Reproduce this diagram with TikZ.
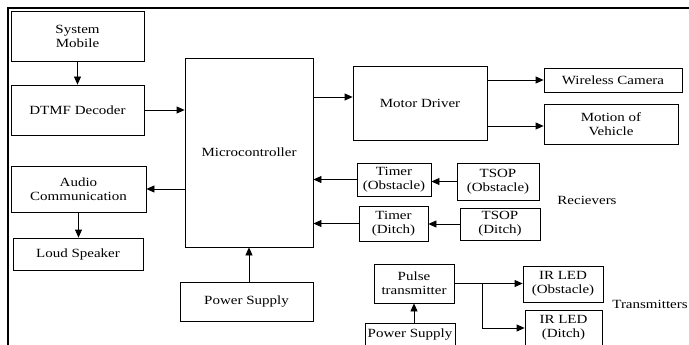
\documentclass[tikz,border=0pt]{standalone}
\usepackage{fontspec}
\setmainfont{Liberation Serif}[FakeStretch=1.2]
\usetikzlibrary{
    positioning,
    calc,
    arrows.meta
}

\begin{document}
\begin{tikzpicture}[
                x=1pt, y=-1pt,
                every node/.style={align=center},
                bloco/.style={
                    draw,
                    line width=0.8pt,
                    inner sep=1pt,
                    font=\fontsize{12.5}{14}\selectfont
                },
                seta/.style={
                    -{Triangle[length=8pt,width=7pt]},
                    line width=0.8pt
                },
                rotulo/.style={font=\fontsize{12.5}{14}\selectfont}
            ]

                \useasboundingbox (0,0) rectangle (689,345);

                % frame
                \draw[line width=2pt] (8,345) -- (8,8) -- (689,8);

                % left column
                \node[bloco, minimum width=133pt, minimum height=50pt]
                    (mobile) at (77.5,36) {System\\Mobile};

                \node[bloco, minimum width=133pt, minimum height=50pt]
                    (decoder) at (77.5,110) {DTMF Decoder};

                \node[bloco, minimum width=135pt, minimum height=46pt]
                    (audio) at (78.5,189) {Audio\\Communication};

                \node[bloco, minimum width=130pt, minimum height=32pt]
                    (speaker) at (78,254) {Loud Speaker};

                % centre
                \node[bloco, minimum width=128pt, minimum height=189pt]
                    (micro) at (249,152.5) {Microcontroller};

                \node[bloco, minimum width=133pt, minimum height=39pt]
                    (power) at (246.5,301.5) {Power Supply};

                % right side
                \node[bloco, minimum width=134pt, minimum height=74pt]
                    (driver) at (420,103) {Motor Driver};

                \node[bloco, minimum width=138pt, minimum height=24pt]
                    (camera) at (613,80) {Wireless Camera};

                \node[bloco, minimum width=134pt, minimum height=40pt]
                    (motion) at (611,124) {Motion of\\Vehicle};

                % receivers
                \node[bloco, minimum width=74pt, minimum height=33pt]
                    (timerobs) at (394,179.5) {Timer\\(Obstacle)};

                \node[bloco, minimum width=82pt, minimum height=37pt]
                    (tsopobs) at (498,181.5) {TSOP\\(Obstacle)};

                \node[bloco, minimum width=69pt, minimum height=35pt]
                    (timerditch) at (393.5,223.5) {Timer\\(Ditch)};

                \node[bloco, minimum width=80pt, minimum height=32pt]
                    (tsopditch) at (500,224) {TSOP\\(Ditch)};

                \node[rotulo] (receivers) at (587,200) {Recievers};

                % transmitters
                \node[bloco, minimum width=80pt, minimum height=39pt]
                    (pulse) at (414,283.5) {Pulse\\transmitter};

                \node[bloco, minimum width=90pt, minimum height=24pt]
                    (powertx) at (410,335) {Power Supply};

                \node[bloco, minimum width=80pt, minimum height=36pt]
                    (ledobs) at (563,284) {IR LED\\(Obstacle)};

                \node[bloco, minimum width=77pt, minimum height=36pt]
                    (ledditch) at (563.5,328) {IR LED\\(Ditch)};

                \node[rotulo] (transmitters) at (650,304) {Transmitters};

                \coordinate (branch) at (482,283);

                % connectors
                \draw[seta] (mobile) -- (decoder);

                \draw[seta] (decoder.east) -- (decoder.east -| micro.west);

                \draw[seta] ([yshift=6pt]driver.west -| micro.east)
                    -- ([yshift=6pt]driver.west);

                \draw[seta] (camera.west -| driver.east) -- (camera.west);

                \draw[seta] ([yshift=-2pt]motion.west -| driver.east)
                    -- ([yshift=-2pt]motion.west);

                \draw[seta] (tsopobs.west) -- (tsopobs.west -| timerobs.east);

                \draw[seta] (timerobs.west) -- (timerobs.west -| micro.east);

                \draw[seta] (tsopditch.west) -- (tsopditch.west -| timerditch.east);

                \draw[seta] (timerditch.west) -- (timerditch.west -| micro.east);

                \draw[seta] (audio.east -| micro.west) -- (audio.east);

                \draw[seta] (audio) -- (audio |- speaker.north);

                \draw[seta] (power.north -| micro.south) -- (micro.south);

                \draw[seta] (powertx.north -| pulse.south) -- (pulse.south);

                \draw[seta] (pulse.east) -- (pulse.east -| ledobs.west);

                \draw[seta] (branch) |- (ledditch.west);

            \end{tikzpicture}
\end{document}
